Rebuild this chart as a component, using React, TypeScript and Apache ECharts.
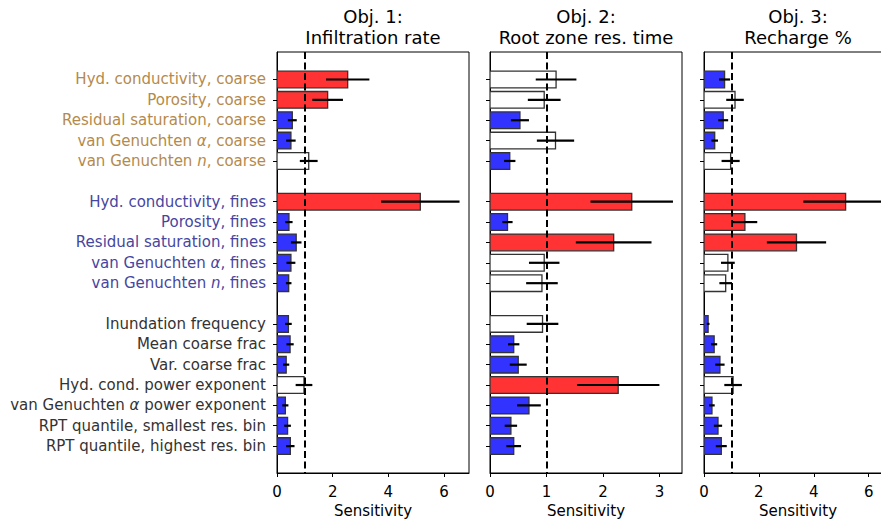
import React, { useEffect, useRef } from "react";
import * as echarts from "echarts";

// Parameter names (top to bottom) and their group: 0 coarse, 1 fines, 2 other
const paramLabels: string[] = [
  "Hyd. conductivity, coarse",
  "Porosity, coarse",
  "Residual saturation, coarse",
  "van Genuchten α, coarse",
  "van Genuchten n, coarse",
  "Hyd. conductivity, fines",
  "Porosity, fines",
  "Residual saturation, fines",
  "van Genuchten α, fines",
  "van Genuchten n, fines",
  "Inundation frequency",
  "Mean coarse frac",
  "Var. coarse frac",
  "Hyd. cond. power exponent",
  "van Genuchten α power exponent",
  "RPT quantile, smallest res. bin",
  "RPT quantile, highest res. bin",
];
const paramGroups: number[] = [0, 0, 0, 0, 0, 1, 1, 1, 1, 1, 2, 2, 2, 2, 2, 2, 2];

const panelTitles: string[] = [
  "Obj. 1:\nInfiltration rate",
  "Obj. 2:\nRoot zone res. time",
  "Obj. 3:\nRecharge %",
];

// Sensitivity values and error half-widths
const infiltrationVal: number[] = [2.54, 1.82, 0.55, 0.5, 1.14, 5.15, 0.43, 0.69, 0.5, 0.42, 0.41, 0.47, 0.33, 0.97, 0.3, 0.38, 0.48];
const infiltrationErr: number[] = [0.78, 0.55, 0.16, 0.17, 0.32, 1.41, 0.13, 0.19, 0.16, 0.1, 0.12, 0.13, 0.11, 0.3, 0.11, 0.12, 0.15];
const rootZoneVal: number[] = [1.17, 0.96, 0.53, 1.16, 0.35, 2.51, 0.31, 2.19, 0.96, 0.92, 0.93, 0.42, 0.5, 2.27, 0.69, 0.37, 0.42];
const rootZoneErr: number[] = [0.36, 0.29, 0.16, 0.33, 0.1, 0.73, 0.09, 0.67, 0.27, 0.28, 0.28, 0.1, 0.15, 0.73, 0.21, 0.11, 0.13];
const rechargeVal: number[] = [0.75, 1.13, 0.7, 0.39, 0.97, 5.16, 1.49, 3.37, 0.87, 0.79, 0.15, 0.37, 0.58, 1.06, 0.29, 0.51, 0.63];
const rechargeErr: number[] = [0.2, 0.32, 0.18, 0.12, 0.33, 1.54, 0.45, 1.08, 0.25, 0.23, 0.05, 0.11, 0.17, 0.32, 0.1, 0.15, 0.2];

const xMaxes: number[] = [6.9, 3.4, 6.85];
const xIntervals: number[] = [2, 1, 2];

const panelVals = [infiltrationVal, rootZoneVal, rechargeVal];
const panelErrs = [infiltrationErr, rootZoneErr, rechargeErr];

// row position: a blank row between groups
const rowOf = (i: number) => i + (paramGroups[i] >= 1 ? 1 : 0) + (paramGroups[i] >= 2 ? 1 : 0);
const rows = paramLabels.map((_, i) => rowOf(i));

const groupColors = ["#b48a4c", "#4646a0", "#333333"];
const FONT = "DejaVu Sans";

function richLabel(text: string, g: number): string {
  const parts = text.split(/(α|(?<= )n(?=,))/);
  return parts
    .filter((p) => p.length > 0)
    .map((p) => (p === "α" || p === "n" ? `{g${g}i|${p}}` : `{g${g}|${p}}`))
    .join("");
}

export default function App() {
  const ref = useRef<HTMLDivElement>(null);
  useEffect(() => {
    if (!ref.current) return;
    const chart = echarts.init(ref.current, null, { renderer: "svg" });
    const lefts = [277, 490, 704];
    const widths = [192, 192, 188];
    const top = 52;
    const height = 421;

    const rich: any = {};
    groupColors.forEach((c, g) => {
      rich[`g${g}`] = { color: c, fontFamily: FONT, fontSize: 15 };
      rich[`g${g}i`] = { color: c, fontFamily: FONT, fontSize: 15, fontStyle: "italic" };
    });

    const grids = lefts.map((l, k) => ({
      left: l,
      top,
      width: widths[k],
      height,
      show: true,
      borderColor: "#000",
      borderWidth: 1,
      backgroundColor: "transparent",
      outerBoundsMode: "none",
      containLabel: false,
    }));

    const xAxes = lefts.map((_, k) => ({
      type: "value",
      gridIndex: k,
      min: 0,
      max: xMaxes[k],
      interval: xIntervals[k],
      name: "Sensitivity",
      nameLocation: "middle",
      nameGap: 29,
      nameTextStyle: { fontFamily: FONT, fontSize: 15, color: "#000" },
      axisLine: { show: true, onZero: false, lineStyle: { color: "#000", width: 1 } },
      axisTick: { show: true, length: 4, lineStyle: { color: "#000" } },
      axisLabel: {
        fontFamily: FONT,
        fontSize: 15,
        color: "#000",
        margin: 11,
        showMaxLabel: false,
        formatter: (v: number) => (Math.abs(v - Math.round(v)) < 1e-6 ? String(Math.round(v)) : ""),
      },
      splitLine: { show: false },
    }));

    const yAxes = lefts.map((_, k) => ({
      type: "value",
      gridIndex: k,
      inverse: true,
      min: -1.35,
      max: 19.32,
      axisLine: { show: true, lineStyle: { color: "#000", width: 1 } },
      axisTick: { show: true, length: 4, customValues: rows, lineStyle: { color: "#000" } },
      axisLabel: {
        show: k === 0,
        customValues: rows,
        margin: 11,
        rich,
        formatter: (v: number) => {
          const idx = rows.findIndex((r) => Math.abs(r - v) < 1e-6);
          if (idx < 0) return "";
          return richLabel(paramLabels[idx], paramGroups[idx]);
        },
      },
      splitLine: { show: false },
    }));

    const series = lefts.map((_, k) => ({
      type: "custom",
      xAxisIndex: k,
      yAxisIndex: k,
      clip: true,
      data: panelVals[k].map((v, i) => [v, panelErrs[k][i], rows[i]]),
      renderItem: (params: any, api: any) => {
        const v = api.value(0);
        const e = api.value(1);
        const row = api.value(2);
        const p0 = api.coord([0, row - 0.41]);
        const p1 = api.coord([v, row + 0.41]);
        const y0 = Math.min(p0[1], p1[1]);
        const h = Math.abs(p1[1] - p0[1]);
        const fill = v - e > 1 ? "#ff3333" : v + e < 1 ? "#3333ff" : "#ffffff";
        const e0 = api.coord([v - e, row]);
        const e1 = api.coord([v + e, row]);
        return {
          type: "group",
          children: [
            {
              type: "rect",
              shape: { x: p0[0], y: y0, width: p1[0] - p0[0], height: h },
              style: { fill, stroke: "#333", lineWidth: 1.3 },
            },
            {
              type: "line",
              shape: { x1: e0[0], y1: e0[1], x2: e1[0], y2: e1[1] },
              style: { stroke: "#000", lineWidth: 2.2 },
            },
          ],
        };
      },
      markLine: {
        silent: true,
        symbol: "none",
        label: { show: false },
        lineStyle: { color: "#000", width: 2, type: [7, 3.5] },
        data: [{ xAxis: 1 }],
        z: 10,
      },
    }));

    const graphic = lefts.map((l, k) => ({
      type: "text",
      x: l + widths[k] / 2,
      y: 6,
      style: {
        text: panelTitles[k],
        textAlign: "center",
        fontFamily: FONT,
        fontSize: 18,
        lineHeight: 21,
        fill: "#000",
      },
    }));

    chart.setOption({
      animation: false,
      backgroundColor: "#fff",
      grid: grids,
      xAxis: xAxes,
      yAxis: yAxes,
      series,
      graphic,
    } as any);
    return () => chart.dispose();
  }, []);
  return (
    <div
      ref={ref}
      style={{ position: "fixed", left: 0, top: 0, width: 881, height: 522 }}
    />
  );
}
